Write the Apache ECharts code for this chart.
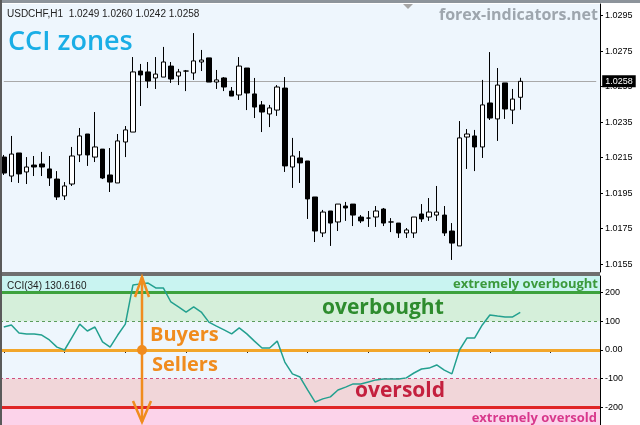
<!DOCTYPE html>
<html>
<head>
<meta charset="utf-8">
<script src="https://cdn.jsdelivr.net/npm/echarts@6/dist/echarts.min.js"></script>
<style>
html,body{margin:0;padding:0;background:#ffffff;}
#chart{width:640px;height:425px;}
</style>
</head>
<body>
<div id="chart"></div>
<script>
// ---- data ----
const slotCount = 79; // 69 hourly candles + empty chart-shift space
const categories = Array.from({length: slotCount}, (_, i) => 'H' + i);

const open = [1.02153,1.02046,1.02176,1.02069,1.02108,1.02114,1.02086,1.02029,1.01934,1.02001,
1.02165,1.02283,1.02153,1.02198,1.02052,1.02007,1.02238,1.02294,1.02638,1.02633,
1.02599,1.02604,1.02666,1.02610,1.02638,1.02627,1.02689,1.02712,1.02576,1.02599,
1.02525,1.02503,1.02655,1.02509,1.02447,1.02396,1.02418,1.02542,1.02097,1.02148,
1.02131,1.01928,1.01725,1.01849,1.01787,1.01877,1.01888,1.01815,1.01809,1.01815,
1.01860,1.01787,1.01781,1.01725,1.01725,1.01832,1.01815,1.01826,1.01826,1.01736,
1.01652,1.02266,1.02272,1.02210,1.02458,1.02368,1.02571,1.02418,1.0249];
const close = [1.02063,1.02170,1.02058,1.02097,1.02097,1.02097,1.02035,1.01928,1.01990,1.02159,
1.02272,1.02165,1.02210,1.02035,1.02012,1.02244,1.02306,1.02633,1.02616,1.02582,
1.02621,1.02689,1.02593,1.02633,1.02638,1.02695,1.02700,1.02576,1.02588,1.02548,
1.02497,1.02666,1.02514,1.02435,1.02407,1.02430,1.02548,1.02103,1.02159,1.02120,
1.01917,1.01736,1.01843,1.01781,1.01888,1.01866,1.01826,1.01793,1.01809,1.01849,
1.01781,1.01787,1.01725,1.01742,1.01815,1.01804,1.01843,1.01843,1.01725,1.01668,
1.02261,1.02283,1.02210,1.02447,1.02373,1.02559,1.02424,1.02480,1.0258];
const low = [1.02052,1.02012,1.02007,1.02001,1.02046,1.02046,1.01990,1.01911,1.01911,1.01990,
1.02125,1.02103,1.02125,1.02029,1.01956,1.02007,1.02153,1.02294,1.02441,1.02542,
1.02537,1.02604,1.02571,1.02559,1.02525,1.02588,1.02638,1.02576,1.02537,1.02525,
1.02497,1.02475,1.02418,1.02373,1.02294,1.02322,1.02385,1.02069,1.01979,1.02007,
1.01804,1.01674,1.01702,1.01652,1.01736,1.01793,1.01764,1.01781,1.01759,1.01759,
1.01764,1.01730,1.01697,1.01697,1.01697,1.01787,1.01793,1.01793,1.01708,1.01573,
1.01652,1.02086,1.02074,1.02148,1.02362,1.02244,1.02368,1.02339,1.0242];
const high = [1.02165,1.02272,1.02176,1.02153,1.02159,1.02182,1.02159,1.02074,1.02012,1.02210,
1.02317,1.02283,1.02407,1.02198,1.02204,1.02283,1.02328,1.02717,1.02678,1.02689,
1.02717,1.02774,1.02689,1.02650,1.02644,1.02852,1.02757,1.02712,1.02644,1.02604,
1.02548,1.02717,1.02655,1.02599,1.02469,1.02447,1.02559,1.02604,1.02261,1.02187,
1.02131,1.01928,1.01855,1.01849,1.01888,1.01900,1.01888,1.01826,1.01849,1.01877,
1.01866,1.01809,1.01781,1.01753,1.01815,1.01888,1.01922,1.01990,1.01877,1.01781,
1.02356,1.02311,1.02306,1.02588,1.02745,1.02655,1.02571,1.02537,1.0260];

const cci = [80,87,59,56,56,52,35,10,0,45,
90,66,80,28,10,52,90,226,230,233,
216,216,167,150,132,150,132,97,83,70,
56,77,56,31,7,7,31,-42,-83,-94,
-139,-181,-170,-163,-139,-129,-118,-118,-111,-104,
-101,-101,-101,-97,-80,-66,-63,-52,-70,-83,
0,42,42,87,122,118,115,115,130.616];

const priceTicks = [1.0155,1.0175,1.0195,1.0215,1.0235,1.0255,1.0275,1.0295];
const priceMin = 1.01505, priceMax = 1.03016;
const cciTicks = [-200,-100,0,100,200];
const cciMin = -260.9, cciMax = 257.4;
const lastPrice = 1.0258;

// ---- build ----
const candles = open.map((o, i) => [o, close[i], low[i], high[i]]);
const lab = {fontFamily:'Liberation Sans', fontSize:9, color:'#000'};
const F = 'Open Sans';

const chart = echarts.init(document.getElementById('chart'), null, {renderer:'canvas'});
chart.setOption({
  animation:false,
  backgroundColor:'#ffffff',
  grid:[
    {left:-2, top:4, width:602, height:268, show:true, backgroundColor:'#eef6fd', borderWidth:0},
    {left:-2, top:276, width:602, height:149, show:true, backgroundColor:'#eef6fd', borderWidth:0}
  ],
  xAxis:[
    {type:'category', gridIndex:0, data:categories, boundaryGap:true,
     axisLine:{show:false}, axisTick:{show:false}, axisLabel:{show:false}, splitLine:{show:false}},
    {type:'category', gridIndex:1, data:categories, boundaryGap:true, offset:-15,
     axisLine:{show:false}, axisTick:{show:true, alignWithLabel:true, interval:7, length:3, lineStyle:{color:'#222'}},
     axisLabel:{show:false}, splitLine:{show:false}}
  ],
  yAxis:[
    {type:'value', gridIndex:0, position:'right', min:priceMin, max:priceMax,
     axisLine:{show:true, lineStyle:{color:'#000', width:1}},
     axisTick:{show:true, length:3, customValues:priceTicks, lineStyle:{color:'#000'}},
     axisLabel:Object.assign({customValues:priceTicks, margin:5, formatter:v => v.toFixed(4)}, lab),
     splitLine:{show:false}},
    {type:'value', gridIndex:1, position:'right', min:cciMin, max:cciMax,
     axisLine:{show:true, lineStyle:{color:'#000', width:1}},
     axisTick:{show:true, length:3, customValues:cciTicks, lineStyle:{color:'#000'}},
     axisLabel:Object.assign({customValues:cciTicks, margin:5, formatter:v => v === 0 ? '0.00' : String(v)}, lab),
     splitLine:{show:false}}
  ],
  series:[
    {type:'candlestick', xAxisIndex:0, yAxisIndex:0, data:candles, barWidth:5, z:3,
     itemStyle:{color:'#ffffff', color0:'#000000', borderColor:'#000000', borderColor0:'#000000', borderWidth:1},
     markLine:{silent:true, symbol:['none','none'], z:1,
       lineStyle:{color:'#a9a9a9', width:1, type:'solid'},
       label:{show:true, position:'end', distance:6, formatter:() => lastPrice.toFixed(4),
              backgroundColor:'#000', color:'#fff', fontFamily:'Liberation Sans', fontSize:9, padding:[2,3,1,3]},
       data:[[{coord:[categories[0], lastPrice]}, {coord:[categories[slotCount - 1], lastPrice]}]]}
    },
    {type:'line', xAxisIndex:1, yAxisIndex:1, data:cci, symbol:'none', z:5,
     lineStyle:{color:'#23a08f', width:1.5},
     markArea:{silent:true, z:1,
       data:[
         [{yAxis:cciTicks[4], itemStyle:{color:'#c9f4f1'}}, {yAxis:cciMax}],
         [{yAxis:cciTicks[3], itemStyle:{color:'#d5efda'}}, {yAxis:cciTicks[4]}],
         [{yAxis:cciTicks[0], itemStyle:{color:'#f1d6d9'}}, {yAxis:cciTicks[1]}],
         [{yAxis:cciMin, itemStyle:{color:'#fcd3ea'}}, {yAxis:cciTicks[0]}]
       ]},
     markLine:{silent:true, symbol:['none','none'], label:{show:false}, z:3,
       data:[
         {yAxis:cciTicks[4], lineStyle:{color:'#3da23d', width:3, type:'solid'}},
         {yAxis:cciTicks[3], lineStyle:{color:'#5c9c5c', width:1, type:[3,3]}},
         {yAxis:cciTicks[2], lineStyle:{color:'#f2a62a', width:3, type:'solid'}},
         {yAxis:cciTicks[1], lineStyle:{color:'#d0507e', width:1, type:[3,3]}},
         {yAxis:cciTicks[0], lineStyle:{color:'#e02626', width:3, type:'solid'}}
       ]}
    }
  ],
  graphic:[
    {type:'rect', shape:{x:0, y:0, width:640, height:3}, style:{fill:'#8d949b'}, z:100},
    {type:'rect', shape:{x:0, y:272, width:600, height:4}, style:{fill:'#6f6f6f'}, z:100},
    {type:'rect', shape:{x:0, y:0, width:2, height:425}, style:{fill:'#5a5a5a'}, z:100},
    {type:'polygon', shape:{points:[[403,4],[413,4],[408,9]]}, style:{fill:'#a5a5a5'}, z:100},
    {type:'text', x:7, y:14, style:{text:'USDCHF,H1  1.0249 1.0260 1.0242 1.0258', fontFamily:'Liberation Sans', fontSize:10, fill:'#222', textVerticalAlign:'middle'}, z:100},
    {type:'text', x:8, y:42, style:{text:'CCI zones', fontFamily:F, fontWeight:600, fontSize:27, fill:'#1aaee6', textVerticalAlign:'middle'}, z:100},
    {type:'text', x:598, y:15, style:{text:'forex-indicators.net', fontFamily:F, fontWeight:'bold', fontSize:16, fill:'#9ea6ae', textAlign:'right', textVerticalAlign:'middle'}, z:100},
    {type:'text', x:7, y:286, style:{text:'CCI(34) 130.6160', fontFamily:'Liberation Sans', fontSize:10, fill:'#222', textVerticalAlign:'middle'}, z:100},
    {type:'text', x:598, y:284, style:{text:'extremely overbought', fontFamily:F, fontWeight:'bold', fontSize:13, fill:'#3c9a3c', textAlign:'right', textVerticalAlign:'middle'}, z:100},
    {type:'text', x:322, y:308, style:{text:'overbought', fontFamily:F, fontWeight:'bold', fontSize:21, fill:'#2e8c2e', textVerticalAlign:'middle'}, z:100},
    {type:'text', x:150, y:335, style:{text:'Buyers', fontFamily:F, fontWeight:'bold', fontSize:20, fill:'#f08c1e', textVerticalAlign:'middle'}, z:100},
    {type:'text', x:152, y:365, style:{text:'Sellers', fontFamily:F, fontWeight:'bold', fontSize:20, fill:'#f08c1e', textVerticalAlign:'middle'}, z:100},
    {type:'text', x:355, y:391, style:{text:'oversold', fontFamily:F, fontWeight:'bold', fontSize:21, fill:'#c4203e', textVerticalAlign:'middle'}, z:100},
    {type:'text', x:597, y:418, style:{text:'extremely oversold', fontFamily:F, fontWeight:'bold', fontSize:13, fill:'#d8388c', textAlign:'right', textVerticalAlign:'middle'}, z:100},
    {type:'line', shape:{x1:142, y1:277, x2:142, y2:422}, style:{stroke:'#f08c1e', lineWidth:2.5}, z:101},
    {type:'polyline', shape:{points:[[135,297],[142,277],[149,297]]}, style:{stroke:'#f08c1e', lineWidth:2.5, fill:null}, z:101},
    {type:'polyline', shape:{points:[[133,401],[142,422],[151,401]]}, style:{stroke:'#f08c1e', lineWidth:2.5, fill:null}, z:101},
    {type:'circle', shape:{cx:142, cy:350, r:5}, style:{fill:'#f08c1e'}, z:101}
  ]
});
</script>
</body>
</html>
